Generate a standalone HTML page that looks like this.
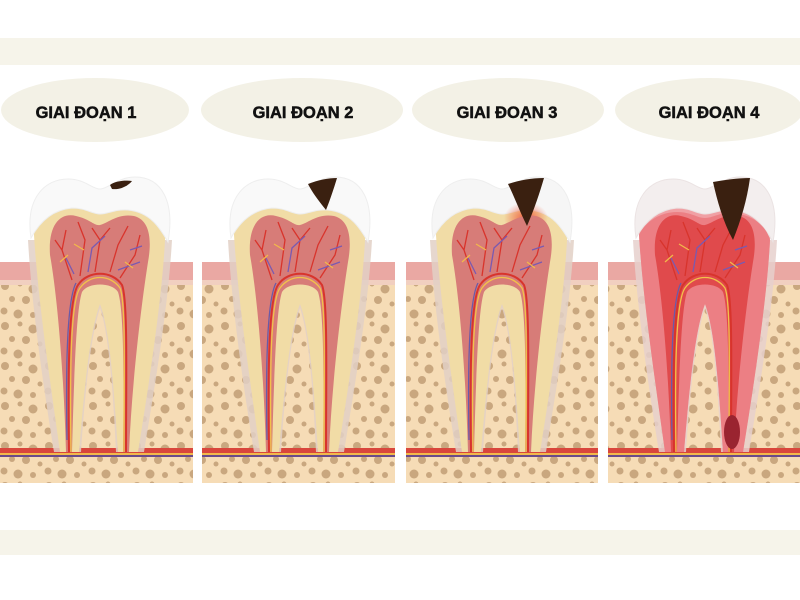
<!DOCTYPE html>
<html><head><meta charset="utf-8"><style>
html,body{margin:0;padding:0;background:#fff;}
svg{display:block}
text{font-family:"Liberation Sans",sans-serif;font-weight:bold;font-size:16.5px;fill:#111;stroke:#111;stroke-width:.5}
</style></head><body>
<svg width="800" height="600" viewBox="0 0 800 600" xmlns="http://www.w3.org/2000/svg">
<defs>
<pattern id="dots" width="44" height="40" patternUnits="userSpaceOnUse">
<rect width="44" height="40" fill="#f6dcb6"/>
<g fill="#c9a77f">
<circle cx="5" cy="6" r="4"/><circle cx="20" cy="4" r="2.5"/><circle cx="33" cy="9" r="4.5"/>
<circle cx="12" cy="19" r="3"/><circle cx="26" cy="20" r="4"/><circle cx="40" cy="24" r="2.5"/>
<circle cx="4" cy="31" r="3.5"/><circle cx="18" cy="34" r="4.5"/><circle cx="33" cy="35" r="3"/>
</g>
</pattern>
<path id="halo" d="M28,240 C32,310 44,390 54,452 L81,452 C85,390 91,335 100,308 C109,335 113,390 116,452 L144,452 C154,390 168,310 172,240 Z"/>
<path id="dentin" d="M34,235 C30,200 45,182 68,182 C85,182 92,192 100,192 C108,192 118,180 135,180 C160,180 170,205 165,240 C162,300 148,390 138,452 L118,452 C114,390 110,330 100,304 C90,330 84,390 79,452 L60,452 C50,380 38,300 34,235 Z"/>
<path id="enamel" d="M31,238 C25,198 45,179 68,179 C85,179 92,189 100,189 C108,189 118,177 135,177 C162,177 175,202 168,242 C160,228 150,212 128,210 C115,209 108,214 100,214 C92,214 86,208 72,208 C50,210 38,225 31,238 Z"/>
<path id="pulp" d="M50,255 C48,225 60,212 76,216 C90,219 94,226 100,225 C108,223 118,213 134,216 C150,220 152,240 148,262 C142,300 132,380 129,452 L123,452 C124,380 124,310 118,292 C112,282 88,282 82,292 C76,310 74,380 72,452 L66,452 C64,380 58,300 50,255 Z"/>
<g id="vessels" fill="none" stroke-width="1.3">
<path d="M69,452 C68,380 68,300 78,285 C88,270 112,270 122,285 C128,300 126,380 126,452" stroke="#d8342c" stroke-width="2"/>
<path d="M71,452 C70,380 70,302 80,288 C90,274 110,274 120,288 C126,302 124,380 124,452" stroke="#f2c24a"/>
<path d="M67,440 C66,380 66,302 76,283" stroke="#6a5aa8"/>
<path d="M72,280 L62,250 L66,230 M80,276 L85,240 L78,222 M95,272 L100,240 L92,228 M100,240 L110,228 M110,272 L118,245 L128,226 M120,278 L135,255 L140,235 M62,250 L55,240" stroke="#d8342c"/>
<path d="M74,274 L66,258 M88,272 L92,248 L105,236 M118,270 L140,262 M130,250 L142,246" stroke="#7a5ab0"/>
<path d="M60,262 L68,255 M125,262 L133,268 M84,250 L74,244" stroke="#f2b84a"/>
</g>
<radialGradient id="glow"><stop offset="0" stop-color="#f05030" stop-opacity=".9"/><stop offset="1" stop-color="#f05030" stop-opacity="0"/></radialGradient>
</defs>

<rect x="0" y="38" width="800" height="27" fill="#f6f4ea"/>
<rect x="0" y="530" width="800" height="25" fill="#f6f4ea"/>

<g fill="#f3f1e6">
<ellipse cx="95" cy="110" rx="94" ry="32"/>
<ellipse cx="302" cy="110" rx="101" ry="32"/>
<ellipse cx="508" cy="110" rx="96" ry="32"/>
<ellipse cx="709" cy="110" rx="94" ry="32"/>
</g>
<text x="86" y="118" text-anchor="middle">GIAI ĐOẠN 1</text>
<text x="303" y="118" text-anchor="middle">GIAI ĐOẠN 2</text>
<text x="507" y="118" text-anchor="middle">GIAI ĐOẠN 3</text>
<text x="709" y="118" text-anchor="middle">GIAI ĐOẠN 4</text>

<g>
<rect x="0" y="262" width="193" height="221" fill="url(#dots)"/>
<rect x="202" y="262" width="193" height="221" fill="url(#dots)"/>
<rect x="406" y="262" width="192" height="221" fill="url(#dots)"/>
<rect x="608" y="262" width="192" height="221" fill="url(#dots)"/>
<g fill="#eaa8a3"><rect x="0" y="262" width="193" height="18"/><rect x="202" y="262" width="193" height="18"/><rect x="406" y="262" width="192" height="18"/><rect x="608" y="262" width="192" height="18"/></g>
<g fill="#f1cfc0"><rect x="0" y="280" width="193" height="5"/><rect x="202" y="280" width="193" height="5"/><rect x="406" y="280" width="192" height="5"/><rect x="608" y="280" width="192" height="5"/></g>
<g fill="#d9463c"><rect x="0" y="448" width="193" height="5"/><rect x="202" y="448" width="193" height="5"/><rect x="406" y="448" width="192" height="5"/><rect x="608" y="448" width="192" height="5"/></g>
<g fill="#f2b84a"><rect x="0" y="453" width="193" height="2"/><rect x="202" y="453" width="193" height="2"/><rect x="406" y="453" width="192" height="2"/><rect x="608" y="453" width="192" height="2"/></g>
<g fill="#6a4a8a"><rect x="0" y="455" width="193" height="2"/><rect x="202" y="455" width="193" height="2"/><rect x="406" y="455" width="192" height="2"/><rect x="608" y="455" width="192" height="2"/></g>
</g>

<g>
<use href="#halo" fill="#e2d0c6" opacity=".85"/>
<use href="#dentin" fill="#f1dca6"/>
<use href="#enamel" fill="#f9f9f9" stroke="#eeeeee"/>
<use href="#pulp" fill="#d77c78"/>
<use href="#vessels"/>
<path d="M110,185 C115,181 125,180 132,181 C128,186 120,190 112,189 Z" fill="#3a2010"/>
</g>
<g transform="translate(200,0)">
<use href="#halo" fill="#e2d0c6" opacity=".85"/>
<use href="#dentin" fill="#f1dca6"/>
<use href="#enamel" fill="#f9f9f9" stroke="#eeeeee"/>
<use href="#pulp" fill="#d77c78"/>
<use href="#vessels"/>
<path d="M108,184 C118,180 128,178 137,178 C134,188 130,200 126,210 C118,200 112,192 108,184 Z" fill="#3a2010"/>
</g>
<g transform="translate(402,0)">
<use href="#halo" fill="#e2d0c6" opacity=".85"/>
<use href="#dentin" fill="#f1dca6"/>
<use href="#enamel" fill="#f6f6f6" stroke="#eeeeee"/>
<ellipse cx="124" cy="218" rx="22" ry="16" fill="url(#glow)"/>
<use href="#pulp" fill="#d77c78"/>
<use href="#vessels"/>
<path d="M106,184 C118,180 130,178 142,178 C138,192 132,210 125,226 C118,212 112,196 106,184 Z" fill="#3a2010"/>
</g>
<g transform="translate(605,0)">
<use href="#halo" fill="#e6d0cc" opacity=".85"/>
<use href="#dentin" fill="#f0a0a4"/>
<use href="#enamel" fill="#f3eeee" stroke="#ebe3e3"/>
<path d="M34,235 C40,222 55,212 72,212 C86,212 92,218 100,218 C108,218 115,212 128,213 C150,215 162,228 165,240 C162,300 148,390 138,452 L118,452 C114,390 110,330 100,304 C90,330 84,390 79,452 L60,452 C50,380 38,300 34,235 Z" fill="#ec7f84"/>
<use href="#pulp" fill="#e04a4c"/>
<use href="#vessels"/>
<ellipse cx="127" cy="432" rx="8" ry="17" fill="#9a2430"/>
<path d="M108,182 C120,180 132,178 145,178 C142,200 136,220 128,240 C118,222 112,200 108,182 Z" fill="#3a2010"/>
</g>
</svg>
</body></html>
